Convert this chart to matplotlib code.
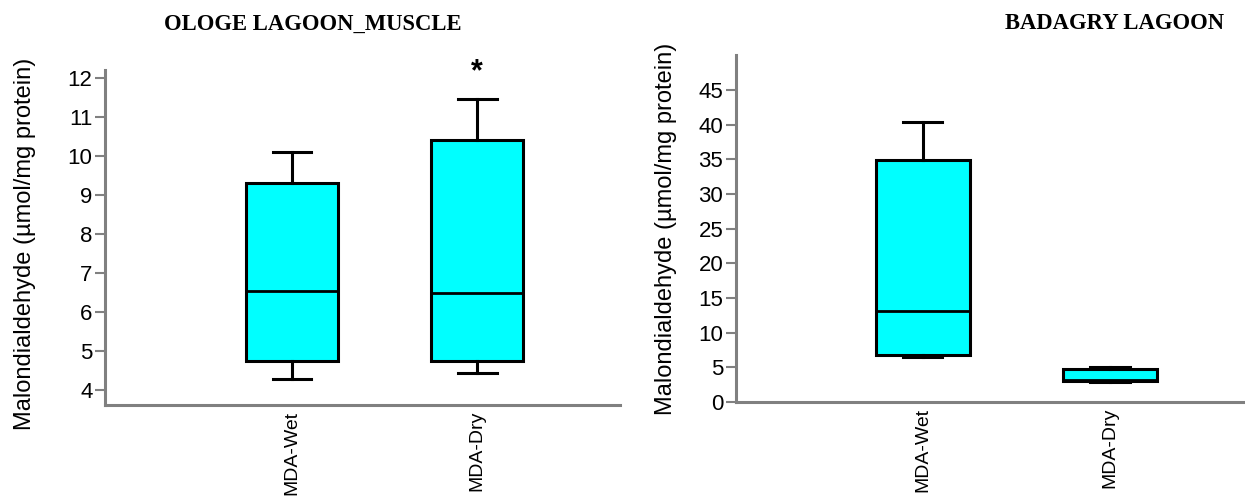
import matplotlib
matplotlib.use("Agg")
import matplotlib.pyplot as plt

plt.rcParams["font.family"] = ["Liberation Sans", "DejaVu Sans"]

groups = ["MDA-Wet", "MDA-Dry"]
ylabel = "Malondialdehyde (\u00b5mol/mg protein)"

# box stats per group: whislo, q1, med, q3, whishi
ologe_lo = [4.3, 4.45]
ologe_q1 = [4.75, 4.75]
ologe_med = [6.55, 6.5]
ologe_q3 = [9.3, 10.4]
ologe_hi = [10.1, 11.45]

badagry_lo = [6.5, 2.9]
badagry_q1 = [6.8, 3.0]
badagry_med = [13.1, 3.2]
badagry_q3 = [34.9, 4.8]
badagry_hi = [40.4, 5.1]


def make_stats(lo, q1, med, q3, hi):
    out = []
    for i, g in enumerate(groups):
        out.append({"label": g, "whislo": lo[i], "q1": q1[i], "med": med[i],
                    "q3": q3[i], "whishi": hi[i], "fliers": []})
    return out


def draw(ax, stats, ylim, yticks, xlim):
    ax.bxp(stats, positions=[1, 2], widths=0.5, capwidths=0.21,
           patch_artist=True, showfliers=False,
           boxprops=dict(facecolor="#00FFFF", edgecolor="black", linewidth=2.2),
           medianprops=dict(color="black", linewidth=2.0),
           whiskerprops=dict(color="black", linewidth=2.2),
           capprops=dict(color="black", linewidth=2.2))
    ax.set_ylim(*ylim)
    ax.set_xlim(*xlim)
    ax.set_yticks(yticks)
    ax.set_xticks([1, 2])
    ax.set_xticklabels(groups, rotation=90, fontsize=14, va="top")
    ax.tick_params(axis="x", length=0, pad=4)
    ax.tick_params(axis="y", length=7, width=1.5, color="#808080",
                   labelsize=16, pad=2)
    for s in ["top", "right"]:
        ax.spines[s].set_visible(False)
    for s in ["left", "bottom"]:
        ax.spines[s].set_color("#808080")
        ax.spines[s].set_linewidth(2.2)
    ax.set_ylabel(ylabel, fontsize=17)


fig = plt.figure(figsize=(12.45, 4.97), dpi=100)

ax1 = fig.add_axes([0.0843, 0.185, 0.414, 0.674])
draw(ax1, make_stats(ologe_lo, ologe_q1, ologe_med, ologe_q3, ologe_hi),
     (3.62, 12.2), range(4, 13), (-0.011, 2.774))
ax1.yaxis.set_label_coords(-0.134, 0.48)
ax1.text(2, 11.75, "*", ha="center", va="bottom", fontsize=22, fontweight="bold")
fig.text(0.2514, 0.952, "OLOGE LAGOON_MUSCLE", ha="center", va="center",
         family="Liberation Serif", fontweight="bold", fontsize=16.3)

ax2 = fig.add_axes([0.591, 0.191, 0.409, 0.698])
draw(ax2, make_stats(badagry_lo, badagry_q1, badagry_med, badagry_q3, badagry_hi),
     (0, 50), range(0, 50, 5), (0.003, 2.72))
ax2.yaxis.set_label_coords(-0.116, 0.5)
fig.text(0.895, 0.952, "BADAGRY LAGOON", ha="center", va="center",
         family="Liberation Serif", fontweight="bold", fontsize=16.3)

fig.savefig("out.png", dpi=100)
